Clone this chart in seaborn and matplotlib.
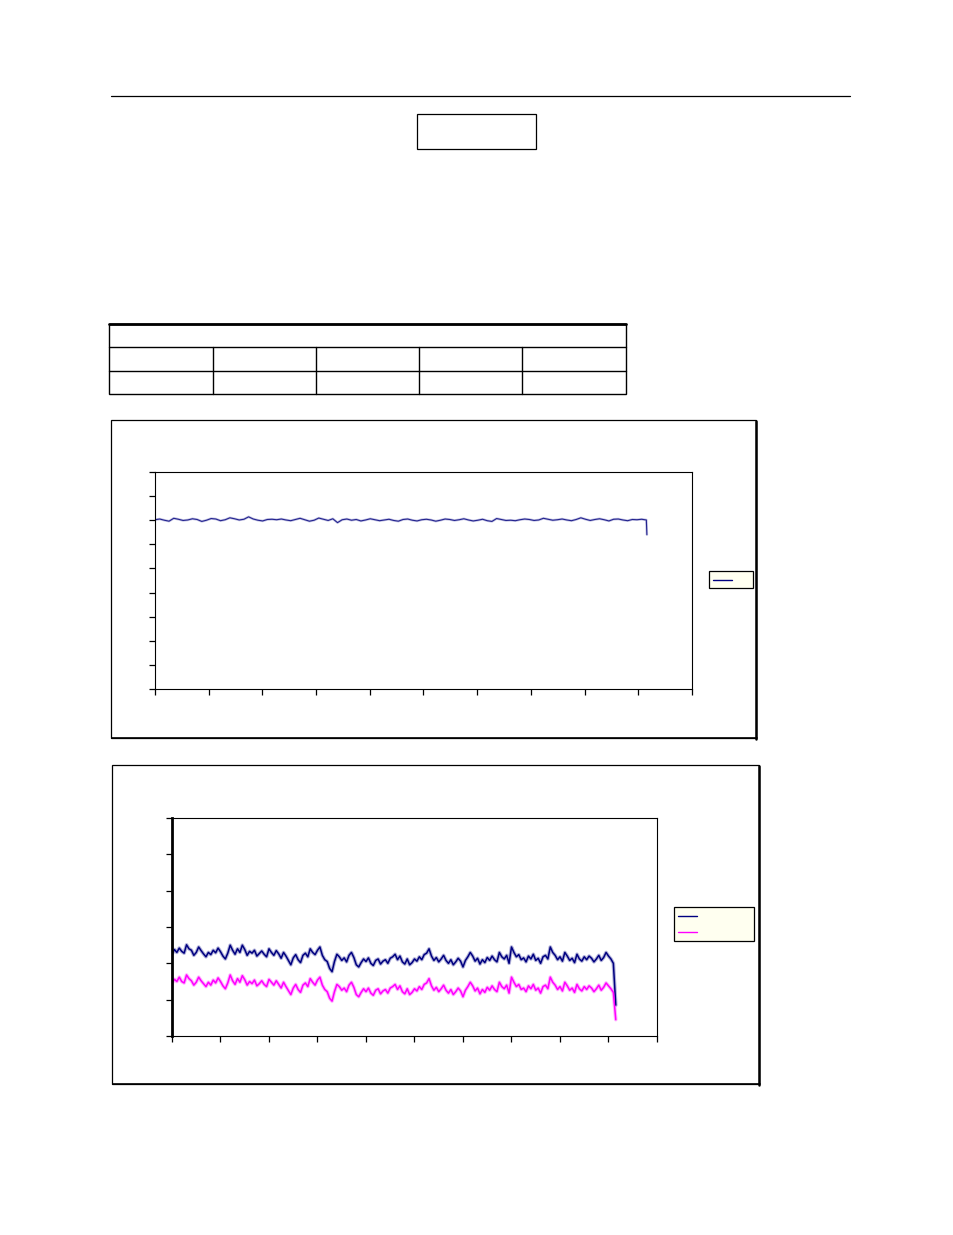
import numpy as np
import pandas as pd
import matplotlib
matplotlib.use("Agg")
import matplotlib.pyplot as plt
import seaborn as sns
from matplotlib.patches import Rectangle
from matplotlib.lines import Line2D

# ── Data (no labels survived in the scan) ──────────────────────────────────────
top_trace = [7.02, 7.05, 7.00, 6.96, 7.08, 7.04, 6.99, 7.01, 7.06, 7.03,
             6.95, 7.00, 7.07, 7.05, 6.98, 7.02, 7.10, 7.06, 7.01, 7.04,
             7.14, 7.05, 7.00, 6.97, 7.03, 7.04, 7.02, 7.05, 7.01, 6.98,
             7.03, 7.08, 7.02, 6.96, 7.00, 7.09, 7.04, 6.99, 7.06, 6.90,
             7.02, 7.05, 7.00, 7.03, 6.97, 7.01, 7.06, 7.02, 6.98, 7.01,
             7.04, 6.99, 6.96, 7.03, 7.05, 7.00, 6.97, 7.02, 7.04, 7.01,
             6.96, 7.00, 7.05, 7.03, 6.99, 7.02, 7.06, 7.01, 6.97, 7.00,
             7.04, 6.98, 6.95, 7.07, 7.03, 6.99, 7.00, 6.98, 7.02, 7.05,
             7.03, 6.99, 7.01, 7.08, 7.04, 7.00, 7.02, 7.05, 7.01, 6.98,
             7.03, 7.10, 7.04, 6.99, 7.03, 7.06, 7.02, 6.97, 7.04, 7.05,
             7.01, 6.98, 7.03, 7.02, 7.04, 7.01]
top_trace_end = 6.40
top_t_last, top_t_drop = 9.15, 9.16

navy_trace = [2.25, 2.38, 2.30, 2.42, 2.33, 2.28, 2.51, 2.40, 2.36, 2.22, 2.30, 2.45, 2.35, 2.26, 2.18, 2.30, 2.24, 2.36, 2.29, 2.42,
              2.32, 2.20, 2.12, 2.28, 2.50, 2.36, 2.25, 2.40, 2.30, 2.50, 2.38, 2.22, 2.33, 2.28, 2.36, 2.20, 2.27, 2.34, 2.25, 2.18,
              2.40, 2.30, 2.22, 2.35, 2.26, 2.14, 2.30, 2.20, 2.08, 1.96, 2.15, 2.24, 2.10, 2.02, 2.22, 2.28, 2.18, 2.40, 2.30, 2.24,
              2.36, 2.45, 2.22, 2.10, 2.05, 1.86, 1.77, 2.05, 2.25, 2.18, 2.08, 2.15, 2.04, 2.22, 2.30, 2.16, 1.96, 1.90, 2.02, 2.12,
              2.05, 2.15, 2.00, 1.94, 2.08, 2.12, 1.98, 2.06, 2.10, 2.00, 2.14, 2.18, 2.25, 2.10, 2.20, 2.04, 1.98, 2.12, 1.96, 2.02,
              2.12, 2.06, 2.18, 2.10, 2.24, 2.28, 2.40, 2.20, 2.08, 2.16, 2.04, 2.12, 2.22, 2.08, 2.00, 2.10, 1.96, 2.04, 2.14, 2.06,
              1.90, 2.08, 2.18, 2.30, 2.20, 2.06, 2.14, 1.98, 2.10, 2.02, 2.16, 2.08, 2.20, 2.10, 2.04, 2.30, 2.18, 2.12, 2.22, 2.00,
              2.45, 2.30, 2.18, 2.24, 2.10, 2.15, 2.04, 2.20, 2.12, 2.25, 2.08, 2.14, 2.00, 2.18, 2.22, 2.12, 2.45, 2.30, 2.22, 2.10,
              2.18, 2.06, 2.30, 2.20, 2.08, 2.14, 2.02, 2.25, 2.12, 2.06, 2.18, 2.10, 2.20, 2.14, 2.04, 2.12, 2.22, 2.08, 2.16, 2.30,
              2.20, 2.12, 2.00, 0.85]

magenta_trace = [1.45, 1.56, 1.50, 1.62, 1.50, 1.46, 1.68, 1.58, 1.52, 1.40, 1.48, 1.62, 1.52, 1.44, 1.36, 1.48, 1.40, 1.54, 1.46, 1.60,
                 1.50, 1.38, 1.30, 1.46, 1.68, 1.52, 1.42, 1.58, 1.48, 1.66, 1.55, 1.40, 1.50, 1.44, 1.54, 1.38, 1.44, 1.52, 1.42, 1.36,
                 1.56, 1.48, 1.40, 1.52, 1.42, 1.32, 1.48, 1.36, 1.25, 1.14, 1.32, 1.42, 1.28, 1.20, 1.40, 1.46, 1.36, 1.58, 1.48, 1.40,
                 1.54, 1.62, 1.40, 1.28, 1.22, 1.04, 0.96, 1.22, 1.42, 1.36, 1.26, 1.32, 1.22, 1.40, 1.48, 1.34, 1.14, 1.08, 1.20, 1.30,
                 1.22, 1.32, 1.18, 1.12, 1.26, 1.30, 1.16, 1.24, 1.28, 1.18, 1.32, 1.36, 1.42, 1.28, 1.38, 1.22, 1.16, 1.30, 1.14, 1.20,
                 1.30, 1.24, 1.36, 1.28, 1.42, 1.46, 1.58, 1.38, 1.26, 1.34, 1.22, 1.30, 1.40, 1.26, 1.18, 1.28, 1.14, 1.22, 1.32, 1.24,
                 1.08, 1.26, 1.36, 1.48, 1.38, 1.24, 1.32, 1.16, 1.28, 1.20, 1.34, 1.26, 1.38, 1.28, 1.22, 1.48, 1.36, 1.30, 1.40, 1.18,
                 1.62, 1.48, 1.36, 1.42, 1.28, 1.32, 1.22, 1.38, 1.30, 1.42, 1.26, 1.32, 1.18, 1.36, 1.40, 1.30, 1.62, 1.48, 1.40, 1.28,
                 1.36, 1.24, 1.48, 1.38, 1.26, 1.32, 1.20, 1.42, 1.30, 1.24, 1.36, 1.28, 1.38, 1.32, 1.22, 1.30, 1.40, 1.26, 1.34, 1.46,
                 1.38, 1.30, 1.20, 0.45]
bottom_step = 0.05

top_xticks = list(range(0, 11))
top_yticks = list(range(0, 10))
bottom_xticks = list(range(0, 11))
bottom_yticks = list(range(0, 7))

NAVY = "#000080"
TOP_BLUE = "#23238f"
MAGENTA = "#FF00FF"
LEGEND_FILL = "#FFFFF0"

W, H = 954, 1235


def fx(px):
    return px / W


def fy(py):
    return 1 - py / H


def frame(fig, x0, y0, x1, y1, lw=1.0, fc="none", zorder=1):
    fig.add_artist(Rectangle((fx(x0), fy(y1)), fx(x1) - fx(x0), fy(y0) - fy(y1),
                             transform=fig.transFigure, fill=(fc != "none"),
                             facecolor=fc, edgecolor="black", linewidth=lw, zorder=zorder))


def hline(fig, x0, x1, y, lw=1.0, color="black"):
    fig.add_artist(Line2D([fx(x0), fx(x1)], [fy(y), fy(y)], transform=fig.transFigure,
                          color=color, linewidth=lw))


def vline(fig, x, y0, y1, lw=1.0):
    fig.add_artist(Line2D([fx(x), fx(x)], [fy(y0), fy(y1)], transform=fig.transFigure,
                          color="black", linewidth=lw))


def style_axes(ax, xticks, yticks, left_lw=0.8):
    ax.set_xlim(xticks[0], xticks[-1])
    ax.set_ylim(yticks[0], yticks[-1])
    ax.set_xticks(xticks)
    ax.set_yticks(yticks)
    ax.set_xticklabels([])
    ax.set_yticklabels([])
    ax.set_xlabel("")
    ax.set_ylabel("")
    ax.tick_params(axis="both", direction="out", length=4, width=0.9, color="black",
                   bottom=True, left=True, top=False, right=False)
    for side in ["top", "right", "bottom"]:
        ax.spines[side].set_visible(True)
        ax.spines[side].set_color("black")
        ax.spines[side].set_linewidth(0.8)
    ax.spines["left"].set_color("black")
    ax.spines["left"].set_linewidth(left_lw)
    ax.grid(False)
    ax.set_facecolor("white")


def main():
    sns.set_style("ticks")
    plt.rcParams["font.family"] = ["DejaVu Sans"]

    fig = plt.figure(figsize=(W / 100, H / 100), dpi=100)
    fig.patch.set_facecolor("white")

    # ── Page header, title box and table ──────────────────────────────────────
    hline(fig, 111, 850, 96, lw=0.9)
    frame(fig, 417, 114, 536, 149, lw=0.9)

    frame(fig, 109, 324, 626, 394, lw=1.0)
    hline(fig, 109, 626, 324, lw=2.0)
    hline(fig, 109, 626, 347, lw=1.0)
    hline(fig, 109, 626, 371, lw=1.0)
    for x in [213, 316, 419, 522]:
        vline(fig, x, 347, 394, lw=1.0)

    # ── Chart 1 ───────────────────────────────────────────────────────────────
    frame(fig, 111, 420, 756, 738, lw=0.9)
    vline(fig, 756, 421, 739, lw=1.8)
    hline(fig, 112, 757, 738, lw=1.2)

    ax1 = fig.add_axes([fx(155), fy(689), fx(692) - fx(155), fy(472) - fy(689)])
    t1 = np.append(np.linspace(0, top_t_last, len(top_trace)), top_t_drop)
    df1 = pd.DataFrame({"t": t1, "v": top_trace + [top_trace_end]})
    sns.lineplot(data=df1, x="t", y="v", ax=ax1, color="#8a8ac8", linewidth=1.8,
                 legend=False, estimator=None, sort=False, alpha=0.5)
    sns.lineplot(data=df1, x="t", y="v", ax=ax1, color=TOP_BLUE, linewidth=0.8,
                 legend=False, estimator=None, sort=False)
    style_axes(ax1, top_xticks, top_yticks)

    frame(fig, 709, 571, 753, 588, lw=0.9, fc=LEGEND_FILL, zorder=3)
    fig.add_artist(Line2D([fx(713), fx(732)], [fy(580), fy(580)], transform=fig.transFigure,
                          color=NAVY, linewidth=1.0, zorder=4))

    # ── Chart 2 ───────────────────────────────────────────────────────────────
    frame(fig, 112, 765, 759, 1084, lw=0.9)
    vline(fig, 759, 766, 1085, lw=1.8)
    hline(fig, 113, 760, 1084, lw=1.2)

    ax2 = fig.add_axes([fx(172), fy(1036), fx(657) - fx(172), fy(818) - fy(1036)])
    t2 = np.arange(len(navy_trace)) * bottom_step
    df2 = pd.DataFrame({
        "t": np.concatenate([t2, t2]),
        "v": navy_trace + magenta_trace,
        "series": ["a"] * len(navy_trace) + ["b"] * len(magenta_trace),
    })
    # soft halo first, then the crisp trace on top (the scan shows both)
    sns.lineplot(data=df2, x="t", y="v", hue="series", palette=["#7f7fc0", "#ff80ff"],
                 ax=ax2, linewidth=2.6, legend=False, estimator=None, sort=False, alpha=0.6)
    sns.lineplot(data=df2, x="t", y="v", hue="series", palette=[NAVY, MAGENTA],
                 ax=ax2, linewidth=1.1, legend=False, estimator=None, sort=False)
    style_axes(ax2, bottom_xticks, bottom_yticks, left_lw=2.0)

    frame(fig, 674, 907, 754, 941, lw=0.9, fc=LEGEND_FILL, zorder=3)
    fig.add_artist(Line2D([fx(678), fx(697)], [fy(916), fy(916)], transform=fig.transFigure,
                          color=NAVY, linewidth=1.0, zorder=4))
    fig.add_artist(Line2D([fx(678), fx(697)], [fy(932), fy(932)], transform=fig.transFigure,
                          color=MAGENTA, linewidth=1.0, zorder=4))

    fig.savefig("out.png", dpi=100, facecolor="white")
    plt.close(fig)


if __name__ == "__main__":
    main()
